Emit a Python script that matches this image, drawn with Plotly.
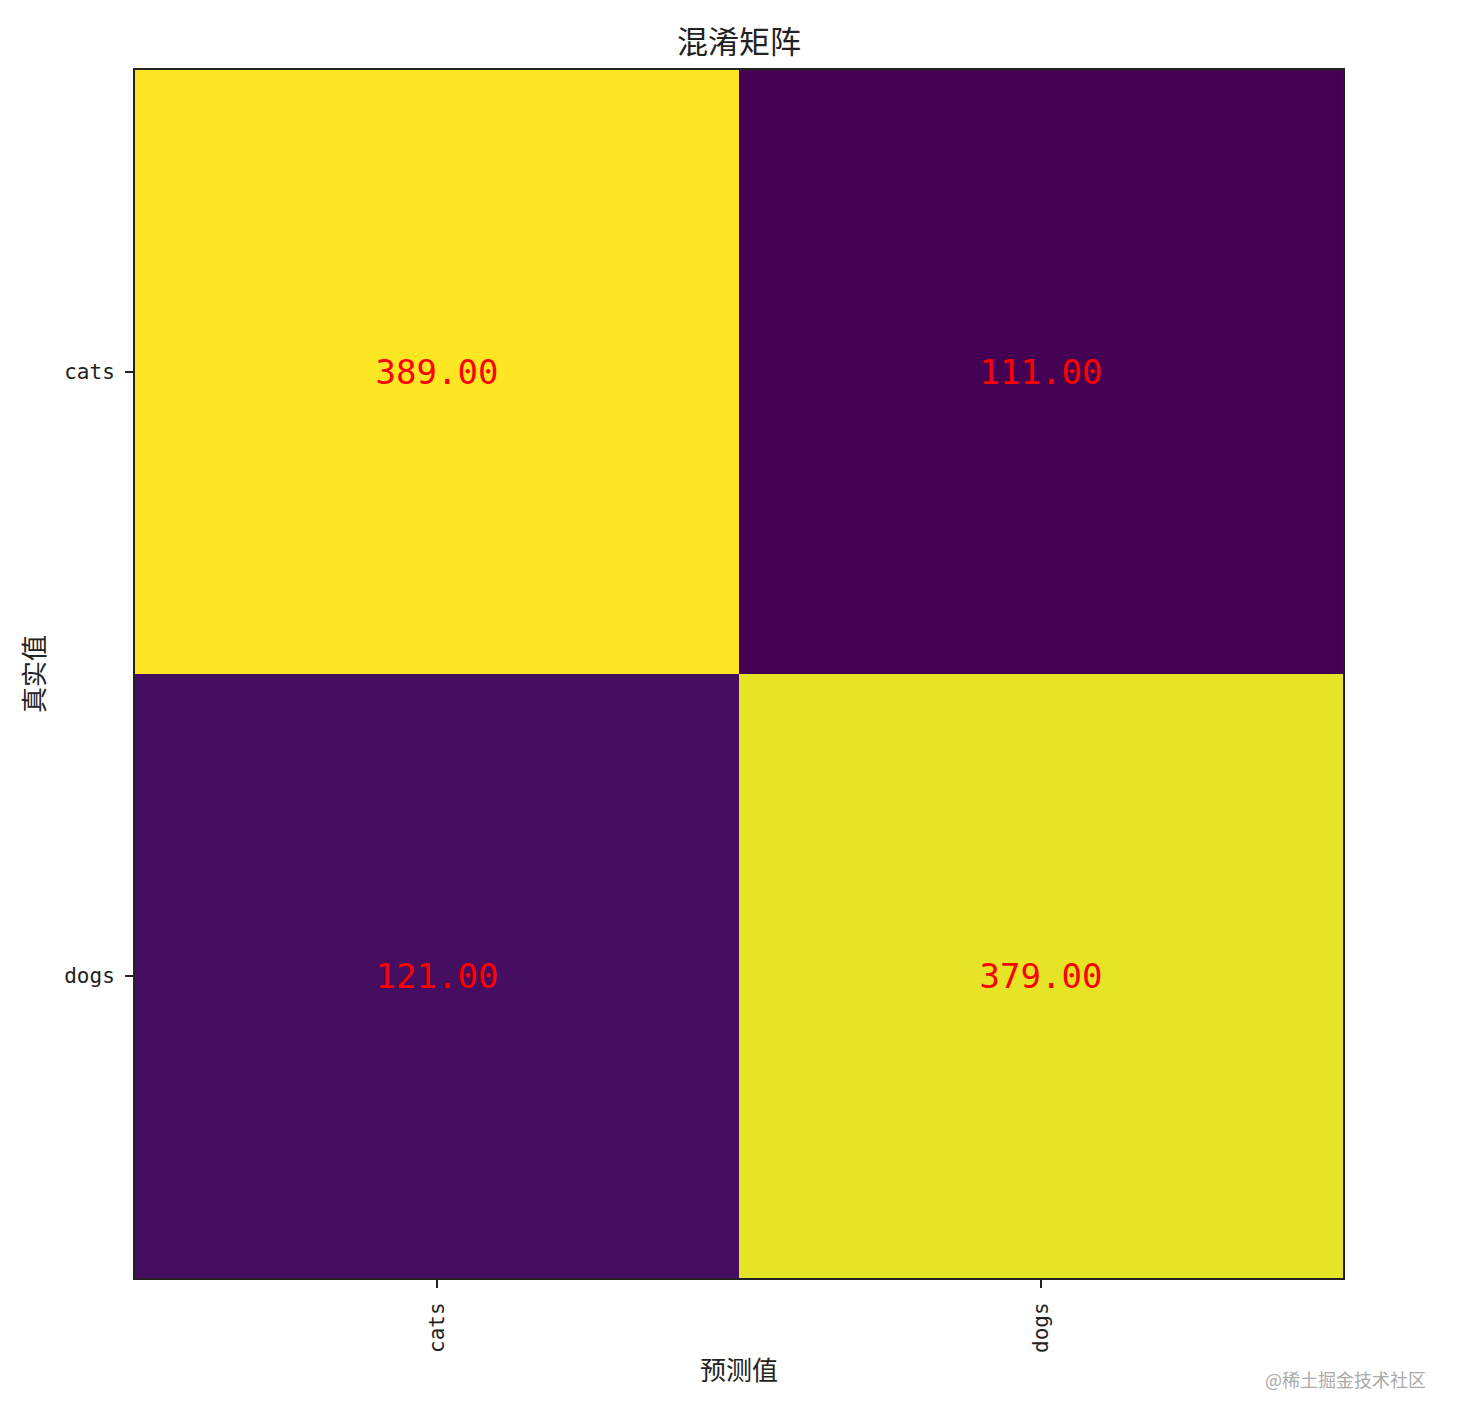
import plotly.graph_objects as go

classes = ["cats", "dogs"]
matrix = [[389, 111],
          [121, 379]]
cell_text = [[f"{v:.2f}" for v in row] for row in matrix]

CJK = "Noto Sans CJK SC, DejaVu Sans, sans-serif"
MONO = "DejaVu Sans Mono, Liberation Mono, monospace"

# the page body has an 8px margin, so the figure is shifted by 8px
W, H = 1455, 1417
L, T = 127, 62
PW = 1208
R = W - L - PW
B = H - T - PW

fig = go.Figure(go.Heatmap(
    z=matrix,
    x=classes,
    y=classes,
    text=cell_text,
    texttemplate="%{text}",
    textfont=dict(color="red", size=34, family=MONO),
    colorscale="Viridis",
    zmin=111,
    zmax=389,
    showscale=False,
    xgap=0, ygap=0,
))

fig.update_layout(
    width=W, height=H,
    margin=dict(l=L, r=R, t=T, b=B),
    paper_bgcolor="white",
    plot_bgcolor="white",
    font=dict(family=CJK, color="#222"),
    title=dict(text="混淆矩阵", x=0.5, xref="paper", xanchor="center",
               y=1 - 34 / H, yanchor="middle",
               font=dict(size=31, family=CJK, color="#222")),
    xaxis=dict(
        title=dict(text="预测值", font=dict(size=26, family=CJK), standoff=10),
        tickangle=-90,
        ticks="outside", ticklen=8, tickwidth=1.5, tickcolor="#222",
        tickfont=dict(size=21, family=MONO, color="#222"),
        ticklabelstandoff=6,
        showline=True, linecolor="#222", linewidth=2, mirror=True,
        showgrid=False, zeroline=False,
    ),
    yaxis=dict(
        title=dict(text="真实值", font=dict(size=26, family=CJK), standoff=12),
        autorange="reversed",
        ticks="outside", ticklen=8, tickwidth=1.5, tickcolor="#222",
        tickfont=dict(size=21, family=MONO, color="#222"),
        ticklabelstandoff=6,
        showline=True, linecolor="#222", linewidth=2, mirror=True,
        showgrid=False, zeroline=False,
    ),
    annotations=[dict(
        text="@稀土掘金技术社区", xref="paper", yref="paper",
        x=(1428 - 8 - L) / PW, y=-(1379 - 8 - (T + PW)) / PW,
        xanchor="right", yanchor="middle", showarrow=False,
        font=dict(size=18, color="#aaaaaa", family=CJK),
    )],
)

fig.write_html("out.html")
